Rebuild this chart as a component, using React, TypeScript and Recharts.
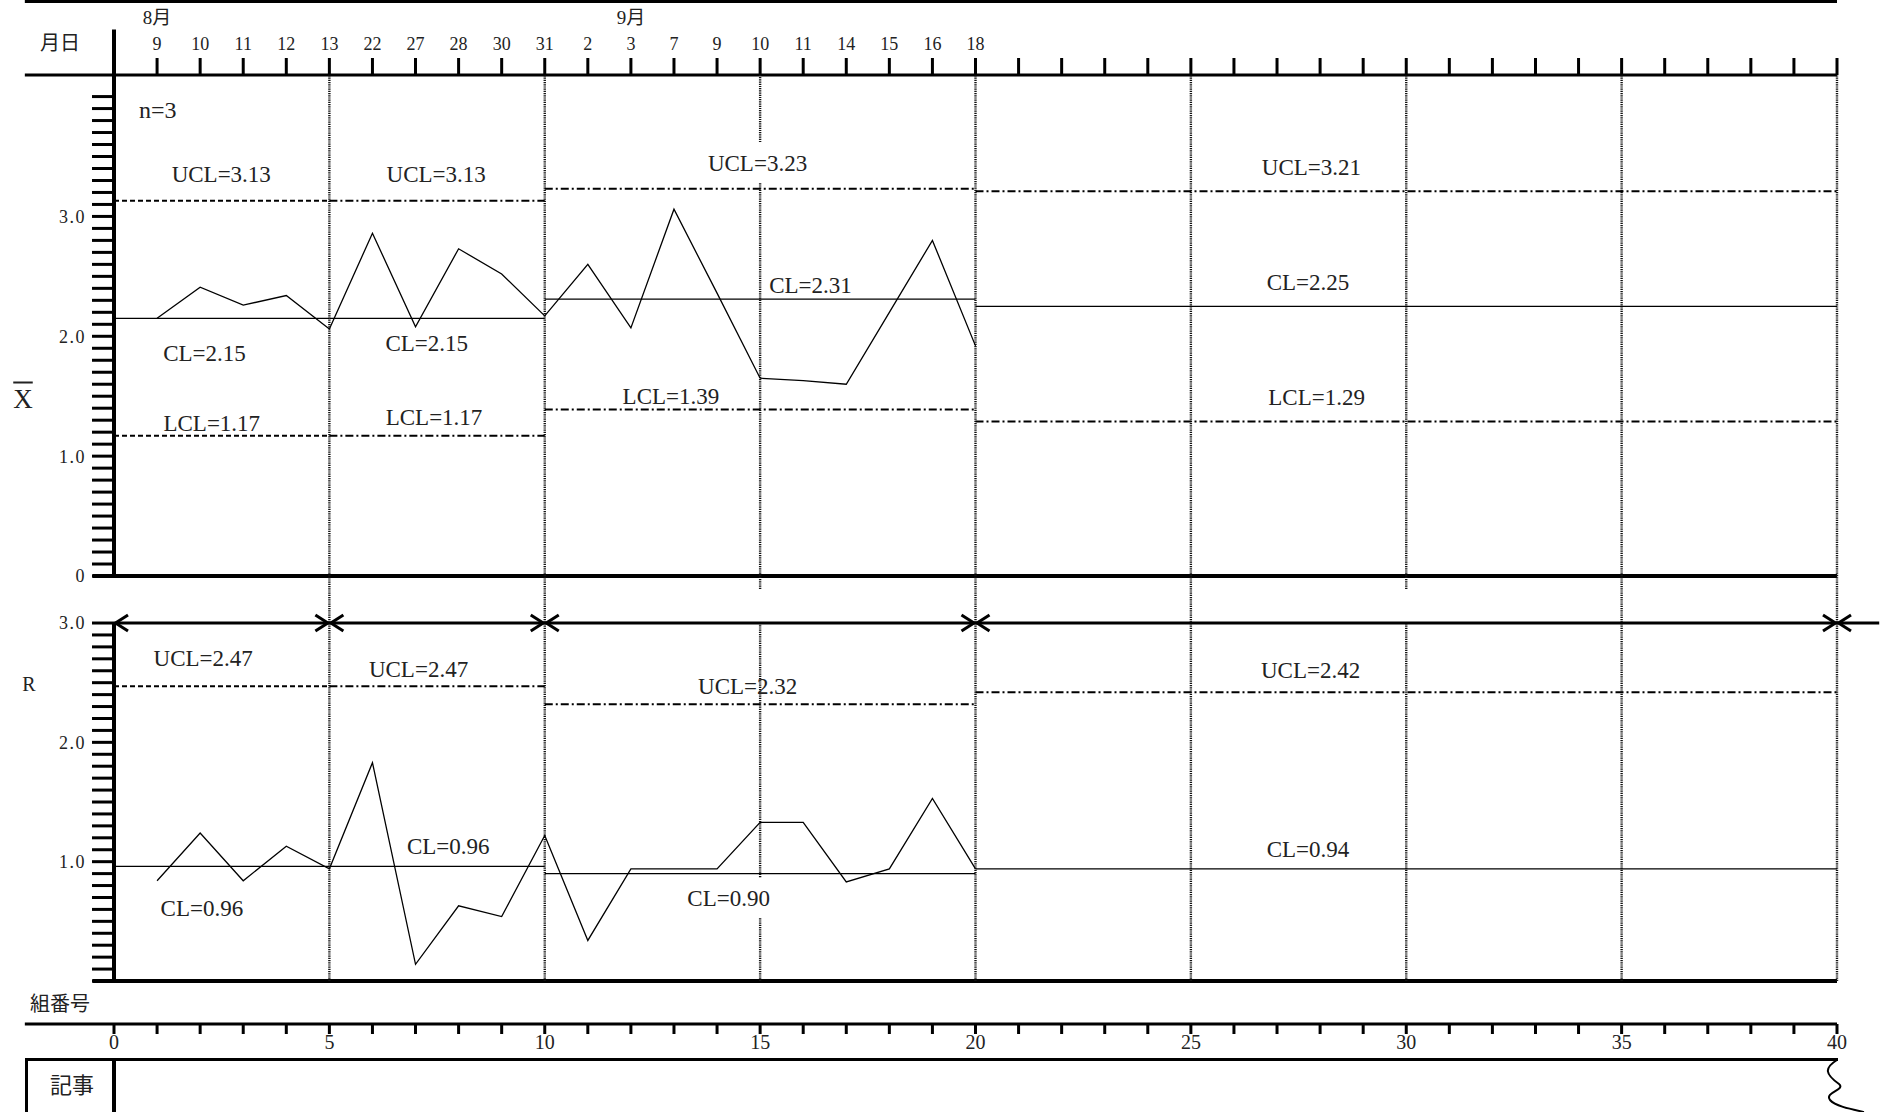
import React from "react";
import { ComposedChart, Line, XAxis, YAxis, ReferenceLine, ReferenceDot } from "recharts";

// subgroups 1..20 (date of each subgroup)
const groupNo = [1, 2, 3, 4, 5, 6, 7, 8, 9, 10, 11, 12, 13, 14, 15, 16, 17, 18, 19, 20];
const dateLabels = ["9", "10", "11", "12", "13", "22", "27", "28", "30", "31", "2", "3", "7", "9", "10", "11", "14", "15", "16", "18"];
const monthLabels = ["8月", "9月"];
const monthGroups = [1, 12];

const xbarValues = [2.15, 2.41, 2.26, 2.34, 2.06, 2.86, 2.08, 2.73, 2.52, 2.17, 2.6, 2.07, 3.06, 2.36, 1.65, 1.63, 1.6, 2.2, 2.8, 1.92];
const rangeValues = [0.84, 1.24, 0.84, 1.13, 0.94, 1.83, 0.14, 0.63, 0.54, 1.22, 0.34, 0.94, 0.94, 0.94, 1.33, 1.33, 0.83, 0.94, 1.53, 0.94];

// control limit phases
const phaseFrom = [0, 5, 10, 20];
const phaseTo = [5, 10, 20, 40];
const xbarUcl = [3.13, 3.13, 3.23, 3.21];
const xbarCl = [2.15, 2.15, 2.31, 2.25];
const xbarLcl = [1.17, 1.17, 1.39, 1.29];
const rangeUcl = [2.47, 2.47, 2.32, 2.42];
const rangeCl = [0.96, 0.96, 0.9, 0.94];
const subgroupSize = 3;

const groupTicks = Array.from({ length: 41 }, (_, i) => i);
const xbarTicks = Array.from({ length: 41 }, (_, i) => i / 10);
const rangeTicks = Array.from({ length: 31 }, (_, i) => i / 10);
const xbarTickLabels = [0, 1, 2, 3];
const rangeTickLabels = [1, 2, 3];
const dividers = [5, 10, 15, 20, 25, 30, 35, 40];

const rows = groupNo.map((g, i) => ({ g, xbar: xbarValues[i], r: rangeValues[i] }));

// layout / style
const serif = '"Liberation Serif", "Noto Sans CJK JP", serif';
const ink = "#222";
const W = 1885;
const X_TOP = 4.18;
const R_DOMAIN: [number, number] = [-0.3603, 3.394];
const phaseDash = ["5 3", "8 3 2 3", "8 3 2 3", "8 3 2 3"];
const dotted = { stroke: "#111", strokeWidth: 2.4, strokeDasharray: "1.2 1" };
const xLabelSpots = {
  ucl: [[2.49, 3.35], [7.48, 3.35], [14.94, 3.44], [27.8, 3.41]],
  cl: [[2.1, 1.86], [7.26, 1.94], [16.17, 2.42], [27.72, 2.45]],
  lcl: [[2.27, 1.27], [7.43, 1.32], [12.93, 1.5], [27.92, 1.49]]
};
const rLabelSpots = {
  ucl: [[2.07, 2.7], [7.07, 2.61], [14.71, 2.47], [27.78, 2.6]],
  cl: [[2.04, 0.61], [7.76, 1.13], [14.27, 0.69], [27.72, 1.1]]
};
const xDividerParts = (d: number) => (d === 15 ? [[0, 3.28], [3.62, X_TOP]] : [[0, X_TOP]]);
const rDividerParts = (d: number) =>
  d === 15 ? [[3.285, R_DOMAIN[1]], [0.87, 3.0], [0, 0.53]] : d === 30 ? [[3.285, R_DOMAIN[1]], [0, 3.0]] : [[0, R_DOMAIN[1]]];

const near = (v: number, list: number[]) => list.some((t) => Math.abs(v - t) < 1e-6);

function DateTick(props: any) {
  const { x, y, payload } = props;
  const i = payload.value as number;
  const label = dateLabels[i - 1] ?? "";
  const m = monthGroups.indexOf(i);
  return (
    <g>
      {label && (
        <text x={x} y={y} textAnchor="middle" fontSize={18} fontFamily={serif} fill={ink}>
          {label}
        </text>
      )}
      {m >= 0 && (
        <text x={x} y={y - 26} textAnchor="middle" fontSize={19} fontFamily={serif} fill={ink}>
          {monthLabels[m]}
        </text>
      )}
    </g>
  );
}

const textShape = (text: string, size = 23, anchor: "middle" | "start" = "middle") => (p: any) => (
  <text x={p.cx} y={p.cy} textAnchor={anchor} dominantBaseline="central" fontSize={size} fontFamily={serif} fill={ink}>
    {text}
  </text>
);

const arrowShape = (left: boolean, right: boolean) => (p: any) => {
  const { x1, y1, x2, y2 } = p;
  return (
    <g>
      <line x1={x1} y1={y1} x2={x2} y2={y2} stroke="#000" strokeWidth={3} />
      {left && <polyline points={`${x1 + 14},${y1 - 8} ${x1 + 1.5},${y1} ${x1 + 14},${y1 + 8}`} fill="none" stroke="#000" strokeWidth={3} />}
      {right && <polyline points={`${x2 - 14},${y2 - 8} ${x2 - 1.5},${y2} ${x2 - 14},${y2 + 8}`} fill="none" stroke="#000" strokeWidth={3} />}
    </g>
  );
};

const yTick = { fill: ink, fontSize: 18, fontFamily: serif, letterSpacing: 1.5 };

function XbarChart() {
  return (
    <ComposedChart width={W} height={596} data={rows} margin={{ top: 0, right: 48, bottom: 20, left: 0 }}>
      <XAxis
        orientation="top"
        type="number"
        dataKey="g"
        domain={[0, 40]}
        ticks={groupTicks.slice(1)}
        interval={0}
        height={75}
        tickSize={17}
        tickMargin={8}
        axisLine={false}
        tickLine={{ stroke: "#000", strokeWidth: 3 }}
        tick={DateTick}
      />
      <YAxis
        type="number"
        domain={[0, X_TOP]}
        ticks={xbarTicks}
        interval={0}
        width={114}
        tickSize={22}
        tickMargin={6}
        axisLine={false}
        tickLine={{ stroke: "#000", strokeWidth: 3 }}
        tick={yTick}
        tickFormatter={(v: number) => (near(v, xbarTickLabels) ? (v === 0 ? "0" : v.toFixed(1)) : "")}
      />
      {/* form frame */}
      <ReferenceLine segment={[{ x: -2.07, y: 4.795 }, { x: 40, y: 4.795 }]} stroke="#000" strokeWidth={3.5} ifOverflow="visible" />
      <ReferenceLine segment={[{ x: -2.07, y: X_TOP }, { x: 40, y: X_TOP }]} stroke="#000" strokeWidth={3} ifOverflow="visible" />
      <ReferenceLine segment={[{ x: 0, y: 0 }, { x: 0, y: 4.56 }]} stroke="#000" strokeWidth={4} ifOverflow="visible" />
      <ReferenceLine segment={[{ x: -0.5, y: 0 }, { x: 40, y: 0 }]} stroke="#000" strokeWidth={4} ifOverflow="visible" />
      {dividers.flatMap((d) =>
        xDividerParts(d).map(([a, b], k) => (
          <ReferenceLine key={`dv${d}-${k}`} segment={[{ x: d, y: a }, { x: d, y: b }]} {...dotted} ifOverflow="visible" />
        ))
      )}
      {phaseFrom.map((f, i) => (
        <ReferenceLine key={`u${i}`} segment={[{ x: f, y: xbarUcl[i] }, { x: phaseTo[i], y: xbarUcl[i] }]} stroke="#000" strokeWidth={2} strokeDasharray={phaseDash[i]} ifOverflow="visible" />
      ))}
      {phaseFrom.map((f, i) => (
        <ReferenceLine key={`c${i}`} segment={[{ x: f, y: xbarCl[i] }, { x: phaseTo[i], y: xbarCl[i] }]} stroke="#000" strokeWidth={1.2} ifOverflow="visible" />
      ))}
      {phaseFrom.map((f, i) => (
        <ReferenceLine key={`l${i}`} segment={[{ x: f, y: xbarLcl[i] }, { x: phaseTo[i], y: xbarLcl[i] }]} stroke="#000" strokeWidth={2} strokeDasharray={phaseDash[i]} ifOverflow="visible" />
      ))}
      {xLabelSpots.ucl.map(([x, y], i) => (
        <ReferenceDot key={`tu${i}`} x={x} y={y} r={0} ifOverflow="visible" shape={textShape(`UCL=${xbarUcl[i].toFixed(2)}`)} />
      ))}
      {xLabelSpots.cl.map(([x, y], i) => (
        <ReferenceDot key={`tc${i}`} x={x} y={y} r={0} ifOverflow="visible" shape={textShape(`CL=${xbarCl[i].toFixed(2)}`)} />
      ))}
      {xLabelSpots.lcl.map(([x, y], i) => (
        <ReferenceDot key={`tl${i}`} x={x} y={y} r={0} ifOverflow="visible" shape={textShape(`LCL=${xbarLcl[i].toFixed(2)}`)} />
      ))}
      <ReferenceDot x={0.58} y={3.89} r={0} ifOverflow="visible" shape={textShape(`n=${subgroupSize}`, 24, "start")} />
      <Line type="linear" dataKey="xbar" stroke="#000" strokeWidth={1.3} dot={false} isAnimationActive={false} />
    </ComposedChart>
  );
}

function RangeChart() {
  return (
    <ComposedChart width={W} height={498} data={rows} margin={{ top: 16, right: 48, bottom: 0, left: 0 }}>
      <XAxis
        type="number"
        dataKey="g"
        domain={[0, 40]}
        ticks={groupTicks}
        interval={0}
        height={34}
        tickSize={10}
        tickMargin={1}
        axisLine={false}
        tickLine={{ stroke: "#000", strokeWidth: 3 }}
        tick={{ fill: ink, fontSize: 20, fontFamily: serif }}
        tickFormatter={(v: number) => (v % 5 === 0 ? String(v) : "")}
      />
      <YAxis
        type="number"
        domain={R_DOMAIN}
        ticks={rangeTicks}
        interval={0}
        width={114}
        tickSize={22}
        tickMargin={6}
        axisLine={false}
        tickLine={{ stroke: "#000", strokeWidth: 3 }}
        tick={yTick}
        tickFormatter={(v: number) => (near(v, rangeTickLabels) ? v.toFixed(1) : "")}
      />
      <ReferenceLine segment={[{ x: 0, y: 0 }, { x: 0, y: 3.0 }]} stroke="#000" strokeWidth={4} ifOverflow="visible" />
      <ReferenceLine segment={[{ x: -0.5, y: 0 }, { x: 40, y: 0 }]} stroke="#000" strokeWidth={4} ifOverflow="visible" />
      <ReferenceLine segment={[{ x: -2.07, y: R_DOMAIN[0] }, { x: 40, y: R_DOMAIN[0] }]} stroke="#000" strokeWidth={3} ifOverflow="visible" />
      {dividers.flatMap((d) =>
        rDividerParts(d).map(([a, b], k) => (
          <ReferenceLine key={`dv${d}-${k}`} segment={[{ x: d, y: a }, { x: d, y: b }]} {...dotted} ifOverflow="visible" />
        ))
      )}
      {phaseFrom.map((f, i) => (
        <ReferenceLine key={`a${i}`} segment={[{ x: f, y: 3.0 }, { x: phaseTo[i], y: 3.0 }]} ifOverflow="visible" shape={arrowShape(true, true)} />
      ))}
      <ReferenceLine segment={[{ x: 40, y: 3.0 }, { x: 40.98, y: 3.0 }]} ifOverflow="visible" shape={arrowShape(true, false)} />
      {phaseFrom.map((f, i) => (
        <ReferenceLine key={`u${i}`} segment={[{ x: f, y: rangeUcl[i] }, { x: phaseTo[i], y: rangeUcl[i] }]} stroke="#000" strokeWidth={2} strokeDasharray={phaseDash[i]} ifOverflow="visible" />
      ))}
      {phaseFrom.map((f, i) => (
        <ReferenceLine key={`c${i}`} segment={[{ x: f, y: rangeCl[i] }, { x: phaseTo[i], y: rangeCl[i] }]} stroke="#000" strokeWidth={1.2} ifOverflow="visible" />
      ))}
      {rLabelSpots.ucl.map(([x, y], i) => (
        <ReferenceDot key={`tu${i}`} x={x} y={y} r={0} ifOverflow="visible" shape={textShape(`UCL=${rangeUcl[i].toFixed(2)}`)} />
      ))}
      {rLabelSpots.cl.map(([x, y], i) => (
        <ReferenceDot key={`tc${i}`} x={x} y={y} r={0} ifOverflow="visible" shape={textShape(`CL=${rangeCl[i].toFixed(2)}`)} />
      ))}
      <Line type="linear" dataKey="r" stroke="#000" strokeWidth={1.3} dot={false} isAnimationActive={false} />
    </ComposedChart>
  );
}

const label = (left: number, top: number, size: number): React.CSSProperties => ({
  position: "absolute",
  left,
  top,
  transform: "translate(-50%, -50%)",
  fontSize: size,
  fontFamily: serif,
  color: ink,
  whiteSpace: "nowrap",
  lineHeight: 1
});

export default function App() {
  return (
    <div style={{ position: "absolute", left: 0, top: 0, width: W, height: 1112, background: "#fff", overflow: "hidden" }}>
      <div style={{ position: "absolute", left: 0, top: 0 }}>
        <XbarChart />
      </div>
      <div style={{ position: "absolute", left: 0, top: 560 }}>
        <RangeChart />
      </div>
      <div style={label(60, 43, 20)}>月日</div>
      <div style={label(23, 399, 27)}>
        <span style={{ textDecoration: "overline" }}>X</span>
      </div>
      <div style={label(29, 684, 20)}>R</div>
      <div style={label(60, 1004, 20)}>組番号</div>
      <div style={label(72, 1086, 22)}>記事</div>
      {/* 記事 box */}
      <div style={{ position: "absolute", left: 25, top: 1058, width: 1813, height: 3, background: "#000" }} />
      <div style={{ position: "absolute", left: 25, top: 1058, width: 3, height: 60, background: "#000" }} />
      <div style={{ position: "absolute", left: 112, top: 1058, width: 4, height: 60, background: "#000" }} />
      <svg style={{ position: "absolute", left: 1820, top: 1059 }} width={65} height={53}>
        <path d="M17,1 C4,9 5,15 19,25 C26,31 4,33 10,41 C15,47 30,50 44,53" fill="none" stroke="#000" strokeWidth={2} />
      </svg>
    </div>
  );
}
